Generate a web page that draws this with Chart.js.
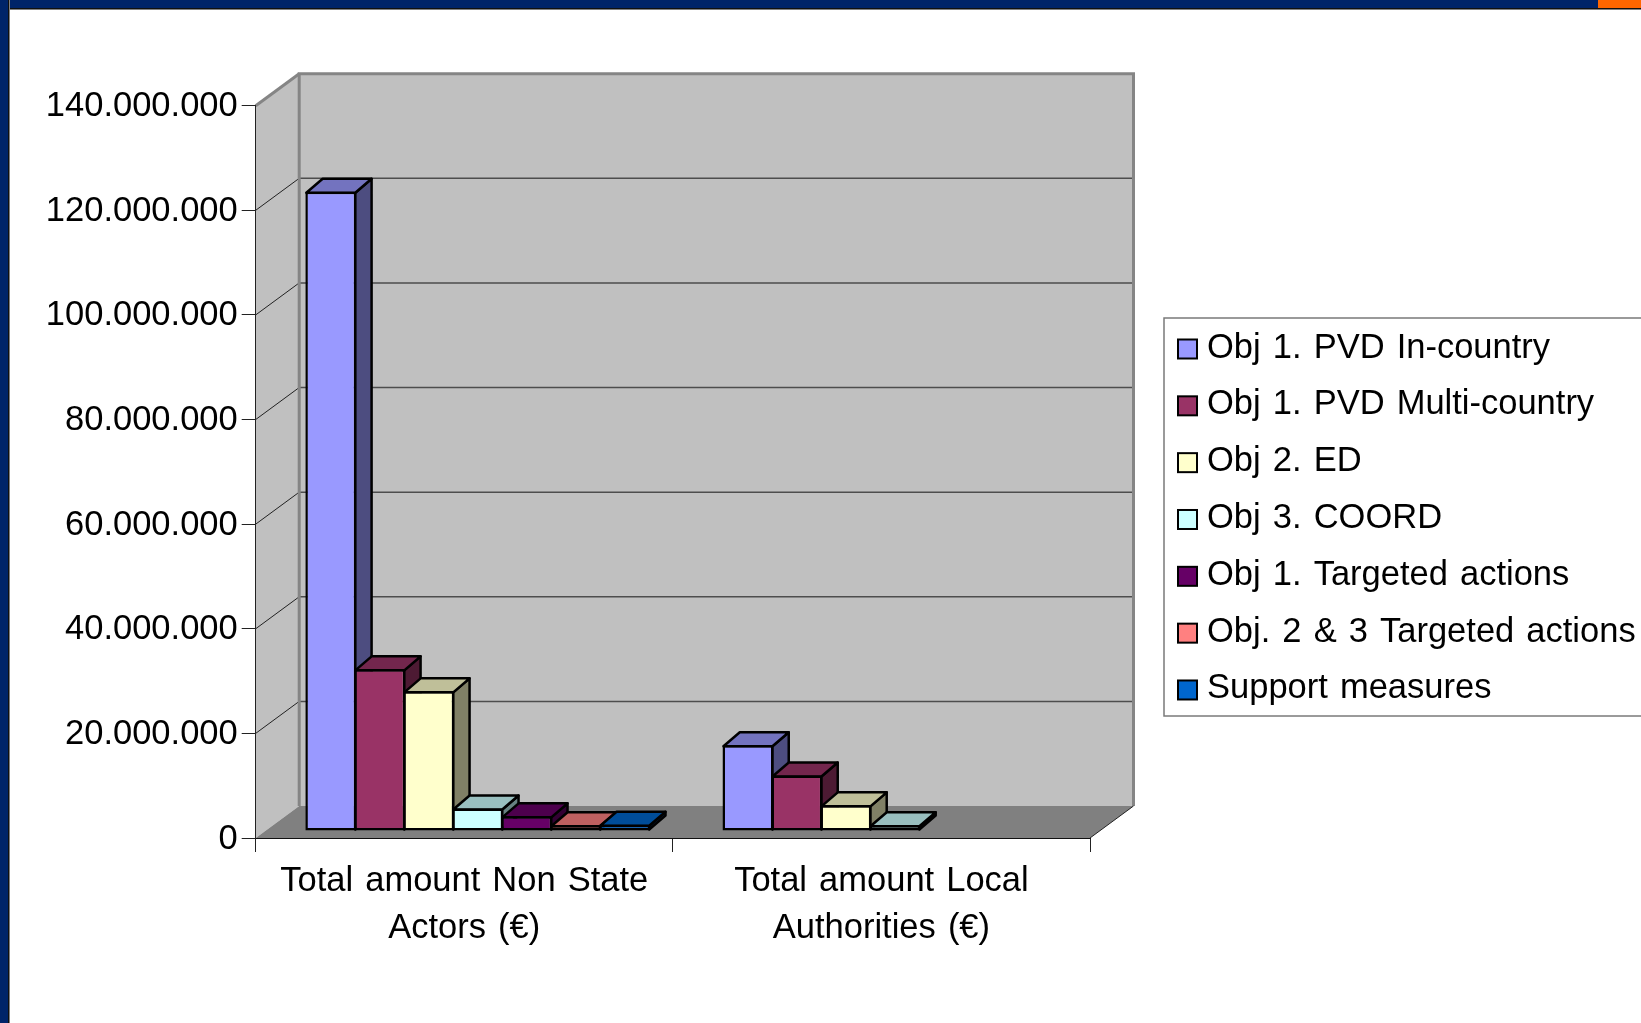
<!DOCTYPE html>
<html>
<head>
<meta charset="utf-8">
<style>
  html, body { margin: 0; background: #fff; overflow: hidden; }
  canvas { display: block; position: absolute; left: 0; top: 0; }
  .band { position: absolute; z-index: 2; }
  #top { left: 0; top: 0; width: 1641px; height: 8px; background: #002469; border-bottom: 1px solid #101010; box-shadow: 0 1px 0 #808080; }
  #left { left: 0; top: 0; width: 8px; height: 1023px; background: #002469; border-right: 1px solid #101010; box-shadow: 1px 0 0 #808080; }
  #corner { left: 1598px; top: 0; width: 43px; height: 8px; background: #ff6600; }
</style>
<script src="https://cdn.jsdelivr.net/npm/chart.js@4"></script>
</head>
<body>
<div class="band" id="top"></div>
<div class="band" id="left"></div>
<div class="band" id="corner"></div>
<canvas id="grantsChart" width="1641" height="1023"></canvas>
<script>
// Chart data
const categories = [['Total amount Non State', 'Actors (€)'], ['Total amount Local', 'Authorities (€)']];
const seriesNames = ['Obj 1. PVD In-country', 'Obj 1. PVD Multi-country', 'Obj 2. ED', 'Obj 3. COORD',
    'Obj 1. Targeted actions', 'Obj. 2 & 3 Targeted actions', 'Support measures'];
const pvdInCountry = [122200000, 16400000];
const pvdMultiCountry = [30900000, 10600000];
const objEd = [26700000, 4900000];
const objCoord = [4300000, 1100000];
const targetedActions1 = [2800000, null];
const targetedActions23 = [1100000, null];
const supportMeasures = [1200000, null];
const seriesValues = [pvdInCountry, pvdMultiCountry, objEd, objCoord, targetedActions1, targetedActions23, supportMeasures];
const seriesColors = ['#9999ff', '#993366', '#ffffcc', '#ccffff', '#660066', '#ff8080', '#0066cc'];
const yMax = 140000000;
const yStep = 20000000;

// 3D look
const FONT = { family: '"Liberation Sans", Arial, sans-serif', size: 34.5, lineHeight: 1.36 };
const WALL_DEPTH = { x: 43.5, y: -32 };   // back wall offset from the front plane
const BAR_SHIFT = { x: 13.5, y: -7 };     // bars stand a bit behind the front plane
const BAR_DEPTH = { x: 16.3, y: -14 };    // depth of a bar
const LEGEND_BOX = { left: 1164, top: 318, bottom: 716 };
const LEGEND_PAD = 22.33;
const LEGEND_X = 1177;
const LEGEND_Y = 348;

function shade(hex, k) {
    const n = parseInt(hex.slice(1), 16);
    return `rgb(${Math.round((n >> 16) * k)},${Math.round(((n >> 8) & 255) * k)},${Math.round((n & 255) * k)})`;
}

function poly(ctx, pts, fill, stroke, width) {
    ctx.beginPath();
    pts.forEach((p, i) => (i ? ctx.lineTo(p[0], p[1]) : ctx.moveTo(p[0], p[1])));
    ctx.closePath();
    if (fill) { ctx.fillStyle = fill; ctx.fill(); }
    if (stroke) { ctx.strokeStyle = stroke; ctx.lineWidth = width; ctx.stroke(); }
}

const box3d = {
    id: 'box3d',
    beforeDraw(chart) {
        const { ctx, chartArea: a, scales: { y } } = chart;
        const dx = WALL_DEPTH.x, dy = WALL_DEPTH.y;
        ctx.wordSpacing = '2.5px'; // the original sets its words a little wider
        ctx.save();
        ctx.lineJoin = 'miter';
        // side wall, floor, back wall
        poly(ctx, [[a.left, a.top], [a.left + dx, a.top + dy], [a.left + dx, a.bottom + dy], [a.left, a.bottom]], '#c0c0c0');
        poly(ctx, [[a.left + dx, a.top + dy], [a.right + dx, a.top + dy], [a.right + dx, a.bottom + dy], [a.left + dx, a.bottom + dy]], '#c0c0c0');
        poly(ctx, [[a.left, a.bottom], [a.right, a.bottom], [a.right + dx, a.bottom + dy], [a.left + dx, a.bottom + dy]], '#808080');
        // grid lines on the walls, one per tick
        y.ticks.forEach(t => {
            if (t.value === 0 || t.value === yMax) return;
            const py = y.getPixelForValue(t.value);
            ctx.beginPath();
            ctx.moveTo(a.left + dx, py + dy);
            ctx.lineTo(a.right + dx, py + dy);
            ctx.strokeStyle = '#4d4d4d';
            ctx.lineWidth = 1.5;
            ctx.stroke();
            ctx.beginPath();
            ctx.moveTo(a.left, py);
            ctx.lineTo(a.left + dx, py + dy);
            ctx.strokeStyle = '#222';
            ctx.lineWidth = 1;
            ctx.stroke();
        });
        // wall edges
        ctx.strokeStyle = '#858585';
        ctx.lineWidth = 3;
        ctx.beginPath();
        ctx.moveTo(a.left + dx, a.bottom + dy);
        ctx.lineTo(a.left + dx, a.top + dy);
        ctx.lineTo(a.right + dx, a.top + dy);
        ctx.lineTo(a.right + dx, a.bottom + dy);
        ctx.stroke();
        ctx.beginPath();
        ctx.moveTo(a.left, a.top);
        ctx.lineTo(a.left + dx, a.top + dy);
        ctx.stroke();
        ctx.beginPath();
        ctx.moveTo(a.right + dx, a.bottom + dy);
        ctx.lineTo(a.right, a.bottom);
        ctx.strokeStyle = '#222';
        ctx.lineWidth = 1;
        ctx.stroke();

        // legend frame, running off the right edge like the original
        ctx.strokeStyle = '#7a7a7a';
        ctx.lineWidth = 1.5;
        ctx.strokeRect(LEGEND_BOX.left, LEGEND_BOX.top, chart.width, LEGEND_BOX.bottom - LEGEND_BOX.top);
        ctx.restore();

        // put the legend where the original has it
        const legend = chart.legend;
        legend.left = LEGEND_X - LEGEND_PAD;
        legend.right = chart.width + 200;
        legend.width = legend.right - legend.left;
        legend.top = LEGEND_Y - FONT.size / 2 - LEGEND_PAD;
        legend.bottom = chart.height;
        legend.height = legend.bottom - legend.top;
    },
    beforeDatasetsDraw(chart) {
        const { ctx } = chart;
        ctx.save();
        ctx.translate(BAR_SHIFT.x, BAR_SHIFT.y);
        ctx.lineJoin = 'round';
        // sides and tops go left to right, the library paints the fronts over them
        seriesNames.forEach((name, s) => {
            chart.getDatasetMeta(s).data.forEach((bar, i) => {
                if (seriesValues[s][i] === null) return;
                const { x, y, width, base } = bar.getProps(['x', 'y', 'width', 'base'], true);
                const l = x - width / 2, r = x + width / 2;
                const dx = BAR_DEPTH.x, dy = BAR_DEPTH.y;
                poly(ctx, [[r - 1, y + 1], [r - 1 + dx, y + 1 + dy], [r - 1 + dx, base - 1 + dy], [r - 1, base - 1]], shade(seriesColors[s], 0.5), '#000', 2.5);
                poly(ctx, [[l + 1, y + 1], [l + 1 + dx, y + 1 + dy], [r - 1 + dx, y + 1 + dy], [r - 1, y + 1]], shade(seriesColors[s], 0.75), '#000', 2.5);
            });
        });
    },
    afterDatasetsDraw(chart) {
        chart.ctx.restore();
    },
    afterDraw(chart) {
        // legend swatches sit slightly below the text centre
        const { ctx } = chart;
        seriesColors.forEach((color, i) => {
            const cy = LEGEND_Y + 1 + i * (FONT.size + LEGEND_PAD);
            ctx.fillStyle = '#000';
            ctx.fillRect(LEGEND_X, cy - 10.5, 21, 21);
            ctx.fillStyle = color;
            ctx.fillRect(LEGEND_X + 2, cy - 8.5, 17, 17);
        });
    }
};

new Chart(document.getElementById('grantsChart'), {
    type: 'bar',
    data: {
        labels: categories,
        datasets: seriesNames.map((name, i) => ({
            label: name,
            data: seriesValues[i],
            backgroundColor: seriesColors[i],
            borderColor: '#000',
            borderWidth: 2.5,
            borderSkipped: false,
            clip: false
        }))
    },
    plugins: [box3d],
    options: {
        responsive: false,
        animation: false,
        categoryPercentage: 0.822,
        barPercentage: 1.04,
        layout: { padding: { left: 0, top: 105.7, right: 550, bottom: 0 } },
        font: FONT,
        plugins: {
            tooltip: { enabled: false },
            title: { display: false },
            legend: {
                position: 'right',
                align: 'start',
                maxWidth: 1,
                labels: {
                    color: '#000',
                    font: FONT,
                    boxWidth: 12.75,
                    boxHeight: 20,
                    padding: LEGEND_PAD,
                    generateLabels: chart => Chart.defaults.plugins.legend.labels.generateLabels(chart)
                        .map(item => ({ ...item, fillStyle: 'transparent', strokeStyle: 'transparent', lineWidth: 0 }))
                }
            }
        },
        scales: {
            x: {
                grid: { offset: true, drawOnChartArea: false, drawTicks: true, tickLength: 14, color: '#222' },
                border: { display: true, color: '#111', width: 1 },
                ticks: { color: '#000', font: FONT, padding: 6, maxRotation: 0, autoSkip: false },
                afterFit: scale => { scale.height = 185; }
            },
            y: {
                min: 0,
                max: yMax,
                grid: { drawOnChartArea: false, drawTicks: true, tickLength: 14, color: '#222' },
                border: { display: true, color: '#222', width: 1 },
                ticks: {
                    stepSize: yStep,
                    color: '#000',
                    font: FONT,
                    padding: 4,
                    labelOffset: 1,
                    callback: value => value.toLocaleString('de-DE')
                },
                afterFit: scale => { scale.width = 255.7; }
            }
        }
    }
});
</script>
</body>
</html>
